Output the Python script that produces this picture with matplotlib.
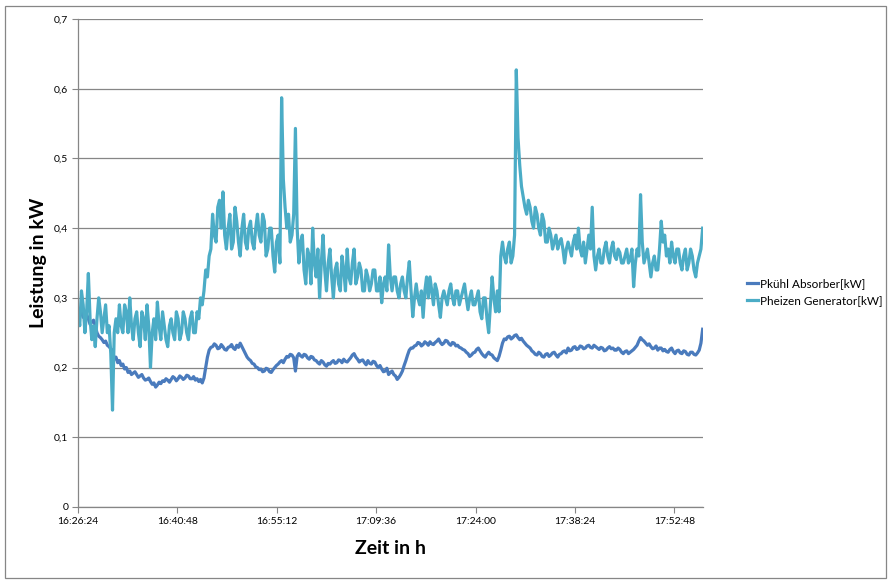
import numpy as np
import matplotlib
matplotlib.use("Agg")
import matplotlib.pyplot as plt
from matplotlib.lines import Line2D

plt.rcParams['font.family'] = ['Lato', 'DejaVu Sans']

# sampling: one value every 15 s starting at 16:26:24
start_sec = 16*3600 + 26*60 + 24
step = 15

p_kuehl = [
    0.285, 0.278, 0.28, 0.272, 0.275, 0.276, 0.27, 0.262, 0.265, 0.268, 0.26, 0.25, 0.245, 0.243, 0.24, 0.236, 0.238, 0.232, 0.23, 0.227,
    0.225, 0.212, 0.215, 0.207, 0.21, 0.203, 0.205, 0.198, 0.20, 0.193, 0.195, 0.19, 0.192, 0.194, 0.19, 0.186, 0.188, 0.19, 0.185, 0.182,
    0.183, 0.185, 0.18, 0.176, 0.178, 0.172, 0.175, 0.179, 0.177, 0.181, 0.18, 0.184, 0.182, 0.179, 0.183, 0.187, 0.185, 0.181, 0.184, 0.188,
    0.186, 0.183, 0.185, 0.189, 0.188, 0.184, 0.184, 0.187, 0.182, 0.184, 0.18, 0.183, 0.178, 0.185, 0.20, 0.215, 0.225, 0.229, 0.23, 0.234,
    0.232, 0.227, 0.228, 0.233, 0.23, 0.226, 0.225, 0.229, 0.23, 0.233, 0.228, 0.226, 0.232, 0.229, 0.235, 0.23, 0.225, 0.22, 0.215, 0.212,
    0.21, 0.206, 0.205, 0.201, 0.20, 0.197, 0.198, 0.194, 0.195, 0.199, 0.198, 0.194, 0.193, 0.197, 0.20, 0.203, 0.205, 0.208, 0.21, 0.207,
    0.212, 0.216, 0.215, 0.219, 0.218, 0.214, 0.195, 0.216, 0.22, 0.217, 0.215, 0.219, 0.218, 0.214, 0.212, 0.216, 0.215, 0.211, 0.21, 0.207,
    0.205, 0.21, 0.208, 0.204, 0.202, 0.206, 0.205, 0.208, 0.21, 0.206, 0.207, 0.211, 0.21, 0.207, 0.212, 0.209, 0.208, 0.211, 0.214, 0.218,
    0.22, 0.215, 0.212, 0.208, 0.21, 0.211, 0.207, 0.204, 0.21, 0.206, 0.205, 0.209, 0.208, 0.203, 0.20, 0.203, 0.198, 0.194, 0.195, 0.199,
    0.19, 0.193, 0.195, 0.19, 0.188, 0.183, 0.186, 0.19, 0.195, 0.203, 0.21, 0.218, 0.225, 0.228, 0.228, 0.231, 0.232, 0.236, 0.235, 0.231,
    0.233, 0.237, 0.235, 0.232, 0.237, 0.234, 0.233, 0.236, 0.238, 0.241, 0.236, 0.233, 0.235, 0.239, 0.238, 0.234, 0.232, 0.236, 0.235, 0.231,
    0.232, 0.229, 0.228, 0.226, 0.225, 0.222, 0.22, 0.216, 0.218, 0.221, 0.222, 0.226, 0.228, 0.224, 0.22, 0.217, 0.215, 0.219, 0.222, 0.219,
    0.218, 0.214, 0.212, 0.21, 0.216, 0.225, 0.235, 0.241, 0.24, 0.244, 0.245, 0.241, 0.243, 0.246, 0.247, 0.243, 0.24, 0.242, 0.238, 0.235,
    0.232, 0.23, 0.228, 0.224, 0.222, 0.219, 0.218, 0.222, 0.22, 0.216, 0.215, 0.219, 0.22, 0.216, 0.218, 0.221, 0.222, 0.218, 0.215, 0.219,
    0.22, 0.223, 0.224, 0.221, 0.228, 0.224, 0.225, 0.229, 0.23, 0.226, 0.227, 0.231, 0.23, 0.227, 0.228, 0.231, 0.232, 0.229, 0.228, 0.232,
    0.23, 0.228, 0.226, 0.229, 0.228, 0.224, 0.225, 0.228, 0.23, 0.227, 0.228, 0.225, 0.225, 0.228, 0.226, 0.222, 0.22, 0.223, 0.224, 0.22,
    0.222, 0.224, 0.226, 0.229, 0.232, 0.238, 0.243, 0.24, 0.238, 0.235, 0.232, 0.234, 0.23, 0.227, 0.228, 0.231, 0.225, 0.228, 0.228, 0.224,
    0.226, 0.223, 0.222, 0.226, 0.228, 0.223, 0.22, 0.224, 0.225, 0.221, 0.22, 0.224, 0.223, 0.219, 0.218, 0.222, 0.222, 0.219, 0.218, 0.221,
    0.225, 0.235, 0.255,
]

p_heizen = [
    0.28, 0.26, 0.31, 0.29, 0.25, 0.28, 0.335, 0.27, 0.24, 0.26, 0.23, 0.27, 0.30, 0.28, 0.25, 0.27, 0.29, 0.25, 0.26, 0.22,
    0.139, 0.25, 0.27, 0.25, 0.29, 0.26, 0.25, 0.29, 0.28, 0.25, 0.30, 0.26, 0.24, 0.27, 0.28, 0.25, 0.23, 0.28, 0.27, 0.24,
    0.29, 0.26, 0.20, 0.25, 0.27, 0.24, 0.294, 0.26, 0.24, 0.28, 0.26, 0.24, 0.23, 0.26, 0.27, 0.25, 0.24, 0.28, 0.27, 0.24,
    0.25, 0.28, 0.27, 0.25, 0.24, 0.27, 0.28, 0.25, 0.25, 0.28, 0.27, 0.30, 0.29, 0.31, 0.34, 0.33, 0.36, 0.37, 0.42, 0.39,
    0.38, 0.43, 0.44, 0.40, 0.452, 0.39, 0.37, 0.40, 0.42, 0.37, 0.38, 0.43, 0.41, 0.38, 0.36, 0.40, 0.42, 0.38, 0.37, 0.40,
    0.41, 0.38, 0.37, 0.40, 0.42, 0.39, 0.38, 0.42, 0.41, 0.36, 0.37, 0.40, 0.40, 0.36, 0.337, 0.38, 0.39, 0.35, 0.587, 0.47,
    0.43, 0.40, 0.42, 0.38, 0.39, 0.42, 0.543, 0.40, 0.35, 0.38, 0.39, 0.34, 0.32, 0.37, 0.36, 0.32, 0.40, 0.35, 0.33, 0.37,
    0.30, 0.35, 0.39, 0.34, 0.31, 0.35, 0.37, 0.33, 0.30, 0.34, 0.35, 0.32, 0.31, 0.36, 0.34, 0.31, 0.37, 0.33, 0.32, 0.35,
    0.37, 0.32, 0.33, 0.35, 0.34, 0.31, 0.31, 0.34, 0.33, 0.31, 0.32, 0.34, 0.34, 0.31, 0.31, 0.33, 0.293, 0.32, 0.33, 0.31,
    0.376, 0.33, 0.31, 0.33, 0.33, 0.31, 0.30, 0.32, 0.33, 0.31, 0.30, 0.33, 0.352, 0.31, 0.273, 0.30, 0.32, 0.30, 0.29, 0.31,
    0.272, 0.31, 0.33, 0.30, 0.33, 0.31, 0.29, 0.32, 0.31, 0.29, 0.272, 0.30, 0.31, 0.30, 0.29, 0.31, 0.32, 0.30, 0.29, 0.31,
    0.31, 0.29, 0.30, 0.31, 0.32, 0.30, 0.283, 0.30, 0.31, 0.29, 0.29, 0.30, 0.31, 0.28, 0.27, 0.30, 0.30, 0.27, 0.25, 0.29,
    0.33, 0.30, 0.28, 0.31, 0.28, 0.36, 0.38, 0.36, 0.35, 0.37, 0.38, 0.35, 0.36, 0.39, 0.627, 0.53, 0.49, 0.46, 0.445, 0.43,
    0.42, 0.44, 0.43, 0.41, 0.40, 0.43, 0.42, 0.40, 0.39, 0.42, 0.41, 0.38, 0.38, 0.40, 0.39, 0.37, 0.38, 0.39, 0.37, 0.38,
    0.385, 0.37, 0.35, 0.37, 0.38, 0.37, 0.36, 0.38, 0.39, 0.37, 0.40, 0.37, 0.36, 0.38, 0.35, 0.37, 0.39, 0.37, 0.43, 0.36,
    0.34, 0.36, 0.37, 0.35, 0.35, 0.37, 0.38, 0.36, 0.35, 0.37, 0.38, 0.36, 0.355, 0.37, 0.365, 0.35, 0.35, 0.36, 0.37, 0.35,
    0.355, 0.37, 0.316, 0.35, 0.37, 0.36, 0.448, 0.38, 0.35, 0.36, 0.37, 0.35, 0.33, 0.35, 0.36, 0.34, 0.34, 0.37, 0.41, 0.38,
    0.39, 0.36, 0.37, 0.35, 0.38, 0.36, 0.35, 0.37, 0.37, 0.35, 0.34, 0.36, 0.37, 0.34, 0.35, 0.37, 0.36, 0.34, 0.33, 0.35,
    0.36, 0.37, 0.40,
]

labels = ['Pkühl Absorber[kW]', 'Pheizen Generator[kW]']
colors = ['#4a7bbd', '#4bacc6']

t = np.arange(len(p_heizen)) * step

fig = plt.figure(figsize=(8.88, 5.81), dpi=100)
ax = fig.add_axes([78/888, 1 - 507/581, 625/888, 488/581])

ax.plot(t, p_kuehl, color=colors[0], lw=2.3, solid_joinstyle='round')
ax.plot(t, p_heizen, color=colors[1], lw=2.3, solid_joinstyle='round')

ax.set_xlim(0, 5433)
ax.set_ylim(0, 0.7)
xt = np.arange(0, 5433, 864)
ax.set_xticks(xt)
ax.set_xticklabels(['%d:%02d:%02d' % ((start_sec + s) // 3600, (start_sec + s) % 3600 // 60, (start_sec + s) % 60) for s in xt])
yt = np.arange(0, 0.71, 0.1)
ax.set_yticks(yt)
ax.set_yticklabels(['0'] + [('%.1f' % v).replace('.', ',') for v in yt[1:]])
ax.tick_params(labelsize=7.5, length=4, color='#868686', width=0.8, pad=3)
ax.grid(axis='y', color='#868686', lw=0.9)
ax.set_axisbelow(True)
for s in ['top', 'right']:
    ax.spines[s].set_visible(False)
for s in ['left', 'bottom']:
    ax.spines[s].set_color('#868686')
    ax.spines[s].set_linewidth(0.9)

ax.set_ylabel('Leistung in kW', fontsize=14, fontweight='bold', labelpad=5)
ax.set_xlabel('Zeit in h', fontsize=14, fontweight='bold', labelpad=10)

handles = [Line2D([], [], color=c, lw=2.3) for c in colors]
fig.legend(handles, labels, loc='center left', bbox_to_anchor=(736/888, 1 - 292/581),
           frameon=False, fontsize=8.5, handlelength=1.0, handletextpad=0.15,
           labelspacing=0.55)

# outer chart border
fig.add_artist(plt.Rectangle((5/888, 3/581), 881/888, 572/581, transform=fig.transFigure,
                             fill=False, edgecolor='#868686', lw=0.9))

fig.savefig('out.png', dpi=100)
